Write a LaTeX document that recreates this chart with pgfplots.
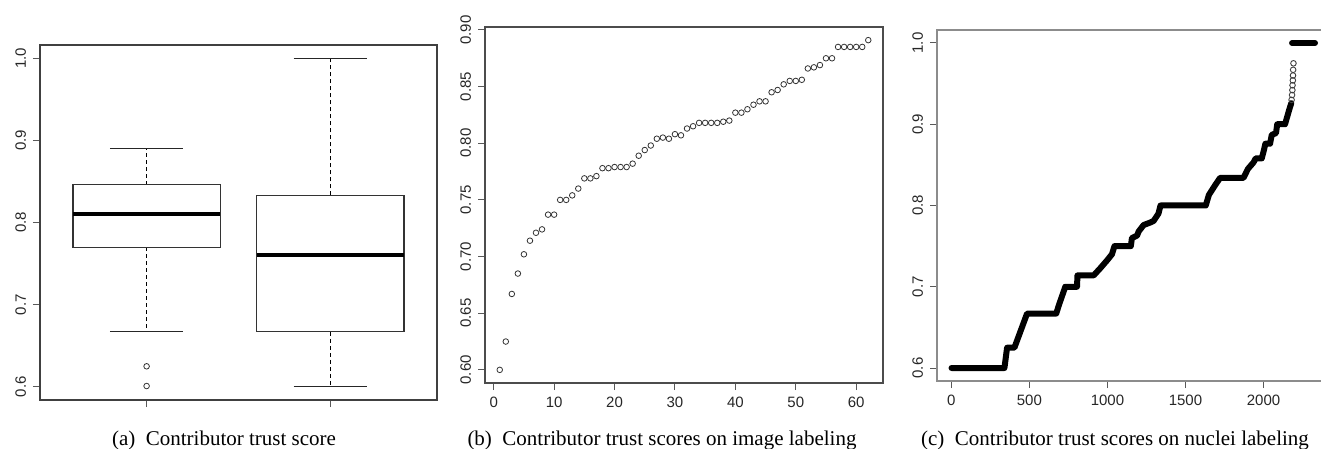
\documentclass[border=0pt]{standalone}
\usepackage{fontspec}
\setmainfont{Liberation Serif}
\newfontfamily\ticksans{Liberation Sans}
\usepackage{pgfplots}
\pgfplotsset{compat=1.18}

\pgfplotsset{
  Rstyle/.style={
    scale only axis,
    anchor=north west,
    tick align=outside,
    tick pos=left,
    major tick length=3.5pt,
    tick style={line width=0.5pt, color=black!65},
    ticklabel style={font=\ticksans\fontsize{7.5}{9}\selectfont, text=black!85},
    /pgf/number format/assume math mode=true,
    yticklabel style={rotate=90, anchor=south},
    axis line style={line width=0.6pt},
  },
  whisk/.style={black, line width=0.45pt, dash pattern=on 2pt off 1.5pt},
  cap/.style={black!85, line width=0.5pt},
  boxl/.style={black!80, line width=0.6pt, line join=miter},
  med/.style={black, line width=2pt},
}

\pgfplotstableread{
x y
1 0.600
2 0.625
3 0.667
4 0.685
5 0.702
6 0.714
7 0.721
8 0.724
9 0.737
10 0.737
11 0.750
12 0.750
13 0.754
14 0.760
15 0.769
16 0.769
17 0.771
18 0.778
19 0.778
20 0.779
21 0.779
22 0.779
23 0.782
24 0.789
25 0.794
26 0.798
27 0.804
28 0.805
29 0.804
30 0.808
31 0.807
32 0.813
33 0.815
34 0.818
35 0.818
36 0.818
37 0.818
38 0.819
39 0.820
40 0.827
41 0.827
42 0.830
43 0.834
44 0.837
45 0.837
46 0.845
47 0.847
48 0.852
49 0.855
50 0.855
51 0.856
52 0.866
53 0.867
54 0.869
55 0.875
56 0.875
57 0.885
58 0.885
59 0.885
60 0.885
61 0.885
62 0.891
}\imagedata

\pgfplotstableread{
x y
1 0.600
340 0.600
357 0.625
404 0.625
485 0.667
672 0.667
690 0.678
730 0.700
805 0.700
808 0.714
912 0.714
955 0.723
1000 0.733
1029 0.740
1045 0.750
1150 0.750
1157 0.760
1190 0.763
1200 0.768
1232 0.776
1274 0.779
1296 0.781
1306 0.784
1327 0.790
1340 0.800
1630 0.800
1650 0.813
1690 0.825
1722 0.834
1872 0.834
1900 0.845
1936 0.853
1950 0.858
1989 0.858
2005 0.870
2012 0.876
2042 0.876
2053 0.887
2080 0.889
2088 0.900
2138 0.900
2150 0.908
2165 0.918
2178 0.926
}\nucleidata

\pgfplotstableread{
x y
2180 0.930
2183 0.936
2185 0.942
2186 0.948
2188 0.954
2189 0.960
2190 0.967
2192 0.975
}\nucleiopen

\pgfplotstableread{
x y
2183 1.000
2330 1.000
}\nucleitop

\begin{document}
\begin{tikzpicture}
% (a) boxplots
\begin{axis}[Rstyle,
  at={(20pt,-22.5pt)}, width=198.5pt, height=177.5pt,
  xmin=0.42, xmax=2.58, ymin=0.584, ymax=1.016,
  xtick={1,2}, xticklabels={},
  ytick={0.6,0.7,0.8,0.9,1.0},
  yticklabel style={/pgf/number format/.cd, fixed, fixed zerofill, precision=1},
  axis line style={black!75},
]
% box 1
\addplot[whisk] coordinates {(1,0.846) (1,0.890)};
\addplot[whisk] coordinates {(1,0.770) (1,0.667)};
\addplot[cap] coordinates {(0.8,0.890) (1.2,0.890)};
\addplot[cap] coordinates {(0.8,0.667) (1.2,0.667)};
\addplot[boxl] coordinates {(0.6,0.770) (1.4,0.770) (1.4,0.846) (0.6,0.846) (0.6,0.770) (1.4,0.770)};
\addplot[med] coordinates {(0.6,0.810) (1.4,0.810)};
% box 2
\addplot[whisk] coordinates {(2,0.833) (2,1.000)};
\addplot[whisk] coordinates {(2,0.667) (2,0.600)};
\addplot[cap] coordinates {(1.8,1.000) (2.2,1.000)};
\addplot[cap] coordinates {(1.8,0.600) (2.2,0.600)};
\addplot[boxl] coordinates {(1.6,0.667) (2.4,0.667) (2.4,0.833) (1.6,0.833) (1.6,0.667) (2.4,0.667)};
\addplot[med] coordinates {(1.6,0.760) (2.4,0.760)};
% outliers
\addplot[only marks, mark=o, mark size=1.4pt, mark options={line width=0.4pt, black!80}]
  coordinates {(1,0.625) (1,0.601)};
\end{axis}

% (b) image labeling
\begin{axis}[Rstyle,
  at={(242.5pt,-13.5pt)}, width=199pt, height=178pt,
  xmin=-1.44, xmax=64.44, ymin=0.5884, ymax=0.9026,
  xtick={0,10,...,60},
  ytick={0.60,0.65,0.70,0.75,0.80,0.85,0.90},
  yticklabel style={/pgf/number format/.cd, fixed, fixed zerofill, precision=2},
  axis line style={black!70},
]
\addplot[only marks, mark=o, mark size=1.4pt, mark options={line width=0.4pt, black!80}]
  table[x=x, y=y] {\imagedata};
\end{axis}

% (c) nuclei labeling
\begin{axis}[Rstyle,
  at={(468.5pt,-15pt)}, width=196.25pt, height=175.5pt,
  xmin=-92, xmax=2423, ymin=0.584, ymax=1.016,
  xtick={0,500,1000,1500,2000},
  ytick={0.6,0.7,0.8,0.9,1.0},
  yticklabel style={/pgf/number format/.cd, fixed, fixed zerofill, precision=1},
  xticklabel style={/pgf/number format/.cd, 1000 sep={}},
  axis line style={black!45},
]
\addplot[black, line width=3pt, line join=round, line cap=round] table[x=x, y=y] {\nucleidata};
\addplot[only marks, mark=o, mark size=1.4pt, mark options={line width=0.45pt, black!75}]
  table[x=x, y=y] {\nucleiopen};
\addplot[black, line width=3pt, line cap=round] table[x=x, y=y] {\nucleitop};
\end{axis}

\node[anchor=base, font=\fontsize{10.5}{12}\selectfont] at (112pt,-222.5pt) {(a)\enspace Contributor trust score};
\node[anchor=base, font=\fontsize{10.5}{12}\selectfont] at (331pt,-222.5pt) {(b)\enspace Contributor trust scores on image labeling};
\node[anchor=base, font=\fontsize{10.5}{12}\selectfont] at (557.5pt,-222.5pt) {(c)\enspace Contributor trust scores on nuclei labeling};

\pgfresetboundingbox
\useasboundingbox (0pt,0pt) rectangle (660.5pt,-224.5pt);
\end{tikzpicture}
\end{document}
